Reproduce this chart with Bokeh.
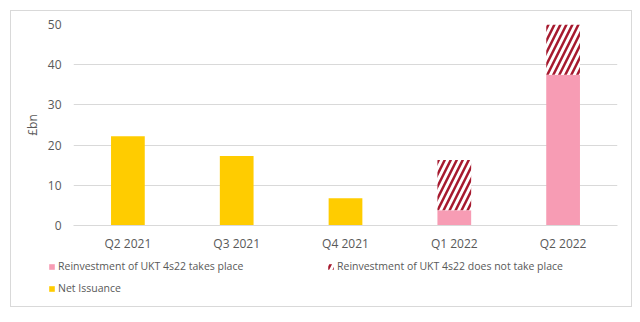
from bokeh.plotting import figure
from bokeh.models import FactorRange, Range1d, Legend, LegendItem, ColumnDataSource
from bokeh.layouts import column
from bokeh.embed import file_html
from bokeh.resources import INLINE

quarters = ["Q2 2021", "Q3 2021", "Q4 2021", "Q1 2022", "Q2 2022"]
net_issuance = [22.2, 17.3, 6.8, 0.0, 0.0]
reinvest_takes_place = [0.0, 0.0, 0.0, 3.8, 37.5]
reinvest_not_take_place = [0.0, 0.0, 0.0, 12.5, 12.5]
y_ticks = [0, 10, 20, 30, 40, 50]
legend_labels = ["Reinvestment of UKT 4s22 takes place",
                 "Reinvestment of UKT 4s22 does not take place",
                 "Net Issuance"]

FONT = "Open Sans"
TXT = "#595959"
YELLOW = "#ffcc00"
PINK = "#f79cb4"
MAROON = "#a6192e"

src = ColumnDataSource(dict(
    q=quarters,
    net=net_issuance,
    pink=reinvest_takes_place,
    hatch=reinvest_not_take_place,
    pink_top=[a + b for a, b in zip(net_issuance, reinvest_takes_place)],
    hatch_top=[a + b + c for a, b, c in zip(net_issuance, reinvest_takes_place, reinvest_not_take_place)],
))

W = 0.31
hatch_kw = dict(fill_color="white", hatch_pattern="/", hatch_color=MAROON, hatch_weight=2.5, hatch_scale=12)


def add_bars(fig):
    r_net = fig.vbar(x="q", top="net", bottom=0, width=W, source=src, fill_color=YELLOW, line_color=None)
    r_pink = fig.vbar(x="q", top="pink_top", bottom="net", width=W, source=src, fill_color=PINK, line_color=None)
    r_hatch = fig.vbar(x="q", top="hatch_top", bottom="pink_top", width=W, source=src, line_color=None, **hatch_kw)
    return r_net, r_pink, r_hatch


p = figure(x_range=FactorRange(*quarters, range_padding=0), y_range=Range1d(0, 50),
           width=622, height=244, output_backend="svg", toolbar_location=None,
           min_border_left=62, min_border_right=14, min_border_top=13, min_border_bottom=30)
p.outline_line_color = None
p.frame_align = False
add_bars(p)

p.xgrid.grid_line_color = None
p.ygrid.grid_line_color = "#d9d9d9"
p.yaxis.ticker = y_ticks
p.yaxis.axis_line_color = None
p.yaxis.major_tick_line_color = None
p.yaxis.minor_tick_line_color = None
p.yaxis.major_label_standoff = 6
p.yaxis.axis_label = "£bn"
p.yaxis.axis_label_text_font = FONT
p.yaxis.axis_label_text_font_style = "normal"
p.yaxis.axis_label_text_font_size = "12px"
p.yaxis.axis_label_text_color = TXT
p.yaxis.axis_label_standoff = 4
p.xaxis.axis_line_color = "#d9d9d9"
p.xaxis.major_tick_line_color = None
p.xaxis.minor_tick_line_color = None
p.xaxis.major_label_standoff = 3
for ax in (p.xaxis, p.yaxis):
    ax.major_label_text_font = FONT
    ax.major_label_text_font_size = "12px"
    ax.major_label_text_color = TXT

# legend-only strip below the chart (same bars, outside its visible range)
lg = figure(width=622, height=51, output_backend="svg", toolbar_location=None,
            min_border=0, x_axis_location=None, y_axis_location=None,
            x_range=FactorRange(*quarters), y_range=Range1d(1000, 1001))
lg.frame_align = False
lg.grid.visible = False
lg.outline_line_color = None
l_net, l_pink, l_hatch = add_bars(lg)

legend = Legend(items=[
    LegendItem(label=legend_labels[0], renderers=[l_pink]),
    LegendItem(label=legend_labels[2], renderers=[l_net]),
    LegendItem(label=legend_labels[1], renderers=[l_hatch]),
], ncols=2, location=(37, 11), label_text_font=FONT, label_text_font_size="10.5px",
    label_text_color=TXT, glyph_width=7, glyph_height=7, label_standoff=3, label_width=261,
    spacing=8, padding=0, margin=0, border_line_color=None, background_fill_alpha=0,
    label_height=14)
lg.add_layout(legend, "center")

layout = column(p, lg, spacing=0)
layout.margin = (10, 0, 0, 10)
layout.styles = {"border": "1px solid #d9d9d9", "width": "622px"}

open("out.html", "w").write(file_html(layout, INLINE))
